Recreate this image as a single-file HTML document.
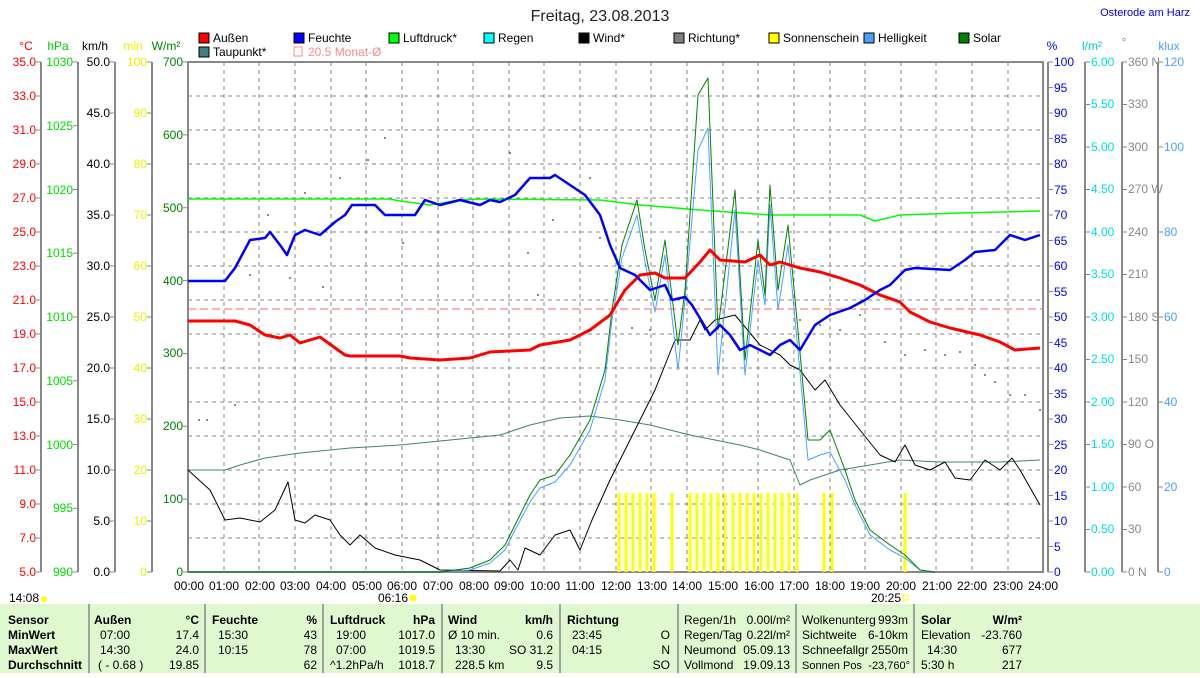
<!DOCTYPE html>
<html><head><meta charset="utf-8"><style>
body{margin:0;width:1200px;height:673px;background:#fff;overflow:hidden;font-family:"Liberation Sans",sans-serif}
svg text{font-family:"Liberation Sans",sans-serif;font-size:12px}
</style></head><body>
<svg width="1200" height="673" viewBox="0 0 1200 673" xmlns="http://www.w3.org/2000/svg">
<text x="600" y="21" text-anchor="middle" style="font-size:16px" fill="#222">Freitag, 23.08.2013</text>
<text x="1190" y="16" text-anchor="end" fill="#0000e0" style="font-size:11px">Osterode am Harz</text>
<g style="font-size:12px">
<rect x="199" y="33" width="10" height="10" fill="#f00" stroke="#000"/><text x="213" y="42">Außen</text>
<rect x="294" y="33" width="10" height="10" fill="#00f" stroke="#000"/><text x="308" y="42">Feuchte</text>
<rect x="389" y="33" width="10" height="10" fill="#0f0" stroke="#000"/><text x="403" y="42">Luftdruck*</text>
<rect x="484" y="33" width="10" height="10" fill="#0ff" stroke="#000"/><text x="498" y="42">Regen</text>
<rect x="579" y="33" width="10" height="10" fill="#000" stroke="#000"/><text x="593" y="42">Wind*</text>
<rect x="674" y="33" width="10" height="10" fill="#808080" stroke="#000"/><text x="688" y="42">Richtung*</text>
<rect x="769" y="33" width="10" height="10" fill="#ff0" stroke="#000"/><text x="783" y="42">Sonnenschein</text>
<rect x="864" y="33" width="10" height="10" fill="#4aa0ff" stroke="#000"/><text x="878" y="42">Helligkeit</text>
<rect x="959" y="33" width="10" height="10" fill="#008000" stroke="#000"/><text x="973" y="42">Solar</text>
<rect x="199" y="47" width="10" height="10" fill="#408080" stroke="#000"/><text x="213" y="56">Taupunkt*</text>
<rect x="294" y="47" width="8" height="9" fill="none" stroke="#f88"/><text x="308" y="56" fill="#f88">20.5 Monat-Ø</text>
</g>
<text x="26" y="50" text-anchor="middle" fill="#f00">°C</text>
<text x="58" y="50" text-anchor="middle" fill="#0c0">hPa</text>
<text x="95" y="50" text-anchor="middle">km/h</text>
<text x="133" y="50" text-anchor="middle" fill="#ee0">min</text>
<text x="166" y="50" text-anchor="middle" fill="#008000">W/m²</text>
<text x="1052" y="50" text-anchor="middle" fill="#00f">%</text>
<text x="1092" y="50" text-anchor="middle" fill="#0cc">l/m²</text>
<text x="1124" y="46" text-anchor="middle" fill="#888">°</text>
<text x="1169" y="50" text-anchor="middle" fill="#4aa0ff">klux</text>
<g stroke="#888" stroke-width="2">
<line x1="41" y1="62" x2="41" y2="572"/><line x1="78" y1="62" x2="78" y2="572"/>
<line x1="115" y1="62" x2="115" y2="572"/><line x1="152" y1="62" x2="152" y2="572"/>
<line x1="1048" y1="62" x2="1048" y2="572"/><line x1="1085" y1="62" x2="1085" y2="572"/>
<line x1="1122" y1="62" x2="1122" y2="572"/><line x1="1158" y1="62" x2="1158" y2="572"/>
</g>
<!-- tick marks -->
<g stroke="#888" stroke-width="5">
<line x1="38.5" y1="61.5" x2="38.5" y2="574" stroke-dasharray="1 33"/>
<line x1="75.5" y1="61.5" x2="75.5" y2="574" stroke-dasharray="1 62.75"/>
<line x1="112.5" y1="61.5" x2="112.5" y2="574" stroke-dasharray="1 50"/>
<line x1="149.5" y1="61.5" x2="149.5" y2="574" stroke-dasharray="1 50"/>
<line x1="185.5" y1="61.5" x2="185.5" y2="574" stroke-dasharray="1 71.86"/>
<line x1="1050.5" y1="61.5" x2="1050.5" y2="574" stroke-dasharray="1 24.5"/>
<line x1="1087.5" y1="61.5" x2="1087.5" y2="574" stroke-dasharray="1 41.5"/>
<line x1="1124.5" y1="61.5" x2="1124.5" y2="574" stroke-dasharray="1 41.5"/>
<line x1="1160.5" y1="61.5" x2="1160.5" y2="574" stroke-dasharray="1 84"/>
</g>
<g stroke="#888" stroke-dasharray="4,4" stroke-width="1">
<line x1="188" y1="96" x2="1043" y2="96"/><line x1="188" y1="130" x2="1043" y2="130"/><line x1="188" y1="164" x2="1043" y2="164"/><line x1="188" y1="198" x2="1043" y2="198"/><line x1="188" y1="232" x2="1043" y2="232"/><line x1="188" y1="266" x2="1043" y2="266"/><line x1="188" y1="300" x2="1043" y2="300"/><line x1="188" y1="334" x2="1043" y2="334"/><line x1="188" y1="368" x2="1043" y2="368"/><line x1="188" y1="402" x2="1043" y2="402"/><line x1="188" y1="436" x2="1043" y2="436"/><line x1="188" y1="470" x2="1043" y2="470"/><line x1="188" y1="504" x2="1043" y2="504"/><line x1="188" y1="538" x2="1043" y2="538"/>
<line x1="224" y1="62" x2="224" y2="572"/><line x1="259" y1="62" x2="259" y2="572"/><line x1="295" y1="62" x2="295" y2="572"/><line x1="331" y1="62" x2="331" y2="572"/><line x1="366" y1="62" x2="366" y2="572"/><line x1="402" y1="62" x2="402" y2="572"/><line x1="438" y1="62" x2="438" y2="572"/><line x1="473" y1="62" x2="473" y2="572"/><line x1="509" y1="62" x2="509" y2="572"/><line x1="544" y1="62" x2="544" y2="572"/><line x1="580" y1="62" x2="580" y2="572"/><line x1="616" y1="62" x2="616" y2="572"/><line x1="651" y1="62" x2="651" y2="572"/><line x1="687" y1="62" x2="687" y2="572"/><line x1="723" y1="62" x2="723" y2="572"/><line x1="758" y1="62" x2="758" y2="572"/><line x1="794" y1="62" x2="794" y2="572"/><line x1="830" y1="62" x2="830" y2="572"/><line x1="865" y1="62" x2="865" y2="572"/><line x1="901" y1="62" x2="901" y2="572"/><line x1="936" y1="62" x2="936" y2="572"/><line x1="972" y1="62" x2="972" y2="572"/><line x1="1008" y1="62" x2="1008" y2="572"/>
</g>
<rect x="188" y="62" width="855" height="510" fill="none" stroke="#888" stroke-width="2"/>
<g text-anchor="end" fill="#f00">
<text x="36" y="66">35.0</text><text x="36" y="100">33.0</text><text x="36" y="134">31.0</text><text x="36" y="168">29.0</text><text x="36" y="202">27.0</text><text x="36" y="236">25.0</text><text x="36" y="270">23.0</text><text x="36" y="304">21.0</text><text x="36" y="338">19.0</text><text x="36" y="372">17.0</text><text x="36" y="406">15.0</text><text x="36" y="440">13.0</text><text x="36" y="474">11.0</text><text x="36" y="508">9.0</text><text x="36" y="542">7.0</text><text x="36" y="576">5.0</text>
</g>
<g text-anchor="end" fill="#0d0">
<text x="73" y="66">1030</text><text x="73" y="130">1025</text><text x="73" y="194">1020</text><text x="73" y="257">1015</text><text x="73" y="321">1010</text><text x="73" y="385">1005</text><text x="73" y="449">1000</text><text x="73" y="512">995</text><text x="73" y="576">990</text>
</g>
<g text-anchor="end" fill="#000">
<text x="110" y="66">50.0</text><text x="110" y="117">45.0</text><text x="110" y="168">40.0</text><text x="110" y="219">35.0</text><text x="110" y="270">30.0</text><text x="110" y="321">25.0</text><text x="110" y="372">20.0</text><text x="110" y="423">15.0</text><text x="110" y="474">10.0</text><text x="110" y="525">5.0</text><text x="110" y="576">0.0</text>
</g>
<g text-anchor="end" fill="#ee0">
<text x="147" y="66">100</text><text x="147" y="117">90</text><text x="147" y="168">80</text><text x="147" y="219">70</text><text x="147" y="270">60</text><text x="147" y="321">50</text><text x="147" y="372">40</text><text x="147" y="423">30</text><text x="147" y="474">20</text><text x="147" y="525">10</text><text x="147" y="576">0</text>
</g>
<g text-anchor="end" fill="#008000">
<text x="183" y="66">700</text><text x="183" y="139">600</text><text x="183" y="212">500</text><text x="183" y="285">400</text><text x="183" y="357">300</text><text x="183" y="430">200</text><text x="183" y="503">100</text><text x="183" y="576">0</text>
</g>
<g fill="#00f">
<text x="1054" y="66">100</text><text x="1054" y="92">95</text><text x="1054" y="117">90</text><text x="1054" y="143">85</text><text x="1054" y="168">80</text><text x="1054" y="194">75</text><text x="1054" y="219">70</text><text x="1054" y="245">65</text><text x="1054" y="270">60</text><text x="1054" y="296">55</text><text x="1054" y="321">50</text><text x="1054" y="347">45</text><text x="1054" y="372">40</text><text x="1054" y="398">35</text><text x="1054" y="423">30</text><text x="1054" y="449">25</text><text x="1054" y="474">20</text><text x="1054" y="500">15</text><text x="1054" y="525">10</text><text x="1054" y="551">5</text><text x="1054" y="576">0</text>
</g>
<g fill="#0dd">
<text x="1091" y="66">6.00</text><text x="1091" y="108">5.50</text><text x="1091" y="151">5.00</text><text x="1091" y="193">4.50</text><text x="1091" y="236">4.00</text><text x="1091" y="278">3.50</text><text x="1091" y="321">3.00</text><text x="1091" y="363">2.50</text><text x="1091" y="406">2.00</text><text x="1091" y="448">1.50</text><text x="1091" y="491">1.00</text><text x="1091" y="533">0.50</text><text x="1091" y="576">0.00</text>
</g>
<g fill="#888">
<text x="1128" y="66">360 N</text><text x="1128" y="108">330</text><text x="1128" y="151">300</text><text x="1128" y="193">270 W</text><text x="1128" y="236">240</text><text x="1128" y="278">210</text><text x="1128" y="321">180 S</text><text x="1128" y="363">150</text><text x="1128" y="406">120</text><text x="1128" y="448">90  O</text><text x="1128" y="491">60</text><text x="1128" y="533">30</text><text x="1128" y="576">0   N</text>
</g>
<g fill="#4aa0ff">
<text x="1164" y="66">120</text><text x="1164" y="151">100</text><text x="1164" y="236">80</text><text x="1164" y="321">60</text><text x="1164" y="406">40</text><text x="1164" y="491">20</text><text x="1164" y="576">0</text>
</g>
<g text-anchor="middle" style="font-size:11px">
<text x="189" y="590">00:00</text><text x="224" y="590">01:00</text><text x="260" y="590">02:00</text><text x="295" y="590">03:00</text><text x="331" y="590">04:00</text><text x="367" y="590">05:00</text><text x="402" y="590">06:00</text><text x="438" y="590">07:00</text><text x="474" y="590">08:00</text><text x="509" y="590">09:00</text><text x="545" y="590">10:00</text><text x="580" y="590">11:00</text><text x="616" y="590">12:00</text><text x="652" y="590">13:00</text><text x="687" y="590">14:00</text><text x="723" y="590">15:00</text><text x="759" y="590">16:00</text><text x="794" y="590">17:00</text><text x="830" y="590">18:00</text><text x="865" y="590">19:00</text><text x="901" y="590">20:00</text><text x="937" y="590">21:00</text><text x="972" y="590">22:00</text><text x="1008" y="590">23:00</text><text x="1043" y="590">24:00</text>
<text x="393" y="602">06:16</text><text x="886" y="602">20:25</text><text x="24" y="602">14:08</text>
</g>
<circle cx="413" cy="598" r="3.5" fill="#ff0"/><rect x="903" y="595" width="5" height="5" fill="none" stroke="#ff0"/><circle cx="44" cy="599" r="3" fill="#ff0"/>
<line x1="188" y1="309" x2="1043" y2="309" stroke="#f66" stroke-dasharray="8,4"/>
<g stroke="#ff0" stroke-width="3">
<line x1="619" y1="493" x2="619" y2="572"/><line x1="626" y1="493" x2="626" y2="572"/><line x1="633" y1="493" x2="633" y2="572"/><line x1="640" y1="493" x2="640" y2="572"/><line x1="647" y1="493" x2="647" y2="572"/><line x1="654" y1="493" x2="654" y2="572"/><line x1="672" y1="493" x2="672" y2="572"/><line x1="690" y1="493" x2="690" y2="572"/><line x1="697" y1="493" x2="697" y2="572"/><line x1="704" y1="493" x2="704" y2="572"/><line x1="711" y1="493" x2="711" y2="572"/><line x1="718" y1="493" x2="718" y2="572"/><line x1="725" y1="493" x2="725" y2="572"/><line x1="733" y1="493" x2="733" y2="572"/><line x1="740" y1="493" x2="740" y2="572"/><line x1="747" y1="493" x2="747" y2="572"/><line x1="754" y1="493" x2="754" y2="572"/><line x1="761" y1="493" x2="761" y2="572"/><line x1="768" y1="493" x2="768" y2="572"/><line x1="775" y1="493" x2="775" y2="572"/><line x1="782" y1="493" x2="782" y2="572"/><line x1="789" y1="493" x2="789" y2="572"/><line x1="797" y1="493" x2="797" y2="572"/><line x1="824" y1="493" x2="824" y2="572"/><line x1="832" y1="493" x2="832" y2="572"/><line x1="905" y1="493" x2="905" y2="572"/>
</g>
<g fill="#666">
<circle cx="199" cy="420" r="1"/><circle cx="207" cy="420" r="1"/><circle cx="235" cy="405" r="1"/><circle cx="250" cy="275" r="1"/><circle cx="268" cy="215" r="1"/><circle cx="290" cy="278" r="1"/><circle cx="305" cy="193" r="1"/><circle cx="323" cy="287" r="1"/><circle cx="340" cy="178" r="1"/><circle cx="368" cy="160" r="1"/><circle cx="385" cy="138" r="1"/><circle cx="403" cy="243" r="1"/><circle cx="510" cy="153" r="1"/><circle cx="528" cy="253" r="1"/><circle cx="538" cy="295" r="1"/><circle cx="553" cy="220" r="1"/><circle cx="590" cy="178" r="1"/><circle cx="600" cy="238" r="1"/><circle cx="632" cy="328" r="1"/><circle cx="650" cy="330" r="1"/><circle cx="765" cy="352" r="1"/><circle cx="800" cy="320" r="1"/><circle cx="820" cy="325" r="1"/><circle cx="840" cy="330" r="1"/><circle cx="860" cy="315" r="1"/><circle cx="885" cy="342" r="1"/><circle cx="905" cy="355" r="1"/><circle cx="925" cy="350" r="1"/><circle cx="945" cy="355" r="1"/><circle cx="960" cy="352" r="1"/><circle cx="975" cy="365" r="1"/><circle cx="985" cy="375" r="1"/><circle cx="995" cy="382" r="1"/><circle cx="1010" cy="395" r="1"/><circle cx="1025" cy="395" r="1"/><circle cx="1040" cy="410" r="1"/>
</g>
<g fill="none" stroke-linejoin="round">
<polyline stroke="#0f0" stroke-width="1.5" points="188,199 390,199 400,201 430,205 460,200 480,199 600,200 640,205 700,210 770,215 860,215 875,221 900,215 960,213 1040,211"/>
<polyline stroke="#408080" stroke-width="1" points="188,470 225,470 240,465 265,458 300,453 350,448 400,445 450,440 500,435 530,425 560,418 590,416 620,420 650,425 690,435 740,445 760,450 790,460 800,485 810,480 840,470 870,465 900,460 940,462 1000,462 1040,460"/>
<polyline stroke="#000" stroke-width="1" points="188,470 210,490 225,520 240,518 260,522 275,510 288,482 295,520 305,523 315,515 330,520 340,535 350,545 360,535 375,548 395,555 420,560 440,570 500,571 510,560 518,570 525,548 540,555 555,535 570,530 580,550 592,520 610,480 625,450 640,420 655,390 675,340 690,340 700,320 705,330 715,320 735,315 760,345 780,355 790,365 800,370 815,390 825,380 840,405 860,430 880,455 895,462 905,445 915,465 930,470 945,462 955,478 970,480 985,460 1000,470 1012,458 1020,470 1040,505"/>
<polyline stroke="#4aa0ff" stroke-width="1" points="188,572 440,572 470,570 490,563 505,550 515,530 530,502 540,488 555,482 570,465 590,430 605,380 612,320 622,258 637,215 645,262 655,312 665,255 678,370 685,300 698,150 708,128 718,375 735,210 745,375 758,260 765,305 770,205 778,310 788,245 797,340 808,460 820,455 830,452 845,480 855,505 870,535 890,550 905,558 920,570 935,572"/>
<polyline stroke="#008000" stroke-width="1" points="188,572 440,572 470,568 490,560 505,545 515,525 530,495 540,480 555,475 570,455 590,420 605,370 612,310 622,245 637,200 645,250 655,300 665,240 678,345 685,290 698,95 708,78 718,330 735,190 745,360 758,240 765,295 770,185 778,290 788,225 797,320 808,440 820,440 830,430 845,470 855,500 870,530 890,545 905,555 920,570 935,572"/>
<polyline stroke="#f00" stroke-width="3" points="188,321 235,321 250,325 265,335 280,338 290,335 300,343 320,337 345,355 350,356 400,356 410,358 440,360 470,358 490,352 530,350 540,345 570,340 590,330 610,315 625,290 640,275 655,273 665,278 685,278 700,262 710,250 720,260 745,262 760,255 770,265 780,262 800,268 820,272 840,278 860,285 880,295 900,302 910,312 930,322 950,328 980,335 1000,342 1015,350 1040,348"/>
<polyline stroke="#00f" stroke-width="2.5" points="188,281 225,281 235,268 250,240 265,238 270,232 280,245 287,255 295,235 305,230 320,235 335,222 345,215 352,205 375,205 385,215 415,215 425,200 440,205 460,200 480,205 490,200 500,202 515,195 530,178 550,178 555,175 570,185 585,195 600,215 610,245 620,268 635,275 650,290 665,285 672,300 685,297 692,305 710,335 720,325 730,335 740,350 750,345 770,355 780,345 790,340 800,350 815,325 830,315 850,308 865,300 880,290 890,285 905,270 915,268 950,270 965,260 975,252 995,250 1010,235 1025,240 1040,235"/>
</g>
<rect x="0" y="604" width="1200" height="69" fill="#e0f8d0"/>
<g stroke="#888" stroke-width="1.5">
<line x1="89" y1="604" x2="89" y2="673"/><line x1="205" y1="604" x2="205" y2="673"/><line x1="323" y1="604" x2="323" y2="673"/><line x1="442" y1="604" x2="442" y2="673"/><line x1="560" y1="604" x2="560" y2="673"/><line x1="678" y1="604" x2="678" y2="673"/><line x1="796" y1="604" x2="796" y2="673"/><line x1="914" y1="604" x2="914" y2="673"/>
</g>
<g style="font-size:12px" fill="#000">
<g font-weight="bold"><text x="8" y="624">Sensor</text><text x="8" y="639">MinWert</text><text x="8" y="654">MaxWert</text><text x="8" y="669">Durchschnitt</text>
<text x="94" y="624">Außen</text><text x="199" y="624" text-anchor="end">°C</text>
<text x="212" y="624">Feuchte</text><text x="317" y="624" text-anchor="end">%</text>
<text x="330" y="624">Luftdruck</text><text x="435" y="624" text-anchor="end">hPa</text>
<text x="448" y="624">Wind</text><text x="553" y="624" text-anchor="end">km/h</text>
<text x="567" y="624">Richtung</text>
<text x="921" y="624">Solar</text><text x="1022" y="624" text-anchor="end">W/m²</text></g>
<text x="100" y="639">07:00</text><text x="199" y="639" text-anchor="end">17.4</text>
<text x="100" y="654">14:30</text><text x="199" y="654" text-anchor="end">24.0</text>
<text x="98" y="669">( - 0.68 )</text><text x="199" y="669" text-anchor="end">19.85</text>
<text x="218" y="639">15:30</text><text x="317" y="639" text-anchor="end">43</text>
<text x="218" y="654">10:15</text><text x="317" y="654" text-anchor="end">78</text>
<text x="317" y="669" text-anchor="end">62</text>
<text x="336" y="639">19:00</text><text x="435" y="639" text-anchor="end">1017.0</text>
<text x="336" y="654">07:00</text><text x="435" y="654" text-anchor="end">1019.5</text>
<text x="330" y="669">^1.2hPa/h</text><text x="435" y="669" text-anchor="end">1018.7</text>
<text x="448" y="639">Ø 10 min.</text><text x="553" y="639" text-anchor="end">0.6</text>
<text x="455" y="654">13:30</text><text x="553" y="654" text-anchor="end">SO 31.2</text>
<text x="455" y="669">228.5 km</text><text x="553" y="669" text-anchor="end">9.5</text>
<text x="572" y="639">23:45</text><text x="670" y="639" text-anchor="end">O</text>
<text x="572" y="654">04:15</text><text x="670" y="654" text-anchor="end">N</text>
<text x="670" y="669" text-anchor="end">SO</text>
<g style="font-size:11.5px">
<text x="684" y="624">Regen/1h</text><text x="790" y="624" text-anchor="end">0.00l/m²</text>
<text x="684" y="639">Regen/Tag</text><text x="790" y="639" text-anchor="end">0.22l/m²</text>
<text x="684" y="654">Neumond</text><text x="790" y="654" text-anchor="end">05.09.13</text>
<text x="684" y="669">Vollmond</text><text x="790" y="669" text-anchor="end">19.09.13</text>
<text x="802" y="624">Wolkenunterg</text><text x="908" y="624" text-anchor="end">993m</text>
<text x="802" y="639">Sichtweite</text><text x="908" y="639" text-anchor="end">6-10km</text>
<text x="802" y="654">Schneefallgr</text><text x="908" y="654" text-anchor="end">2550m</text>
<text x="802" y="669" style="font-size:11px">Sonnen Pos</text><text x="910" y="669" text-anchor="end" style="font-size:11px">-23,760°</text>
</g>
<text x="921" y="639">Elevation</text><text x="1022" y="639" text-anchor="end">-23.760</text>
<text x="927" y="654">14:30</text><text x="1022" y="654" text-anchor="end">677</text>
<text x="921" y="669">5:30 h</text><text x="1022" y="669" text-anchor="end">217</text>
</g>
</svg>
</body></html>
